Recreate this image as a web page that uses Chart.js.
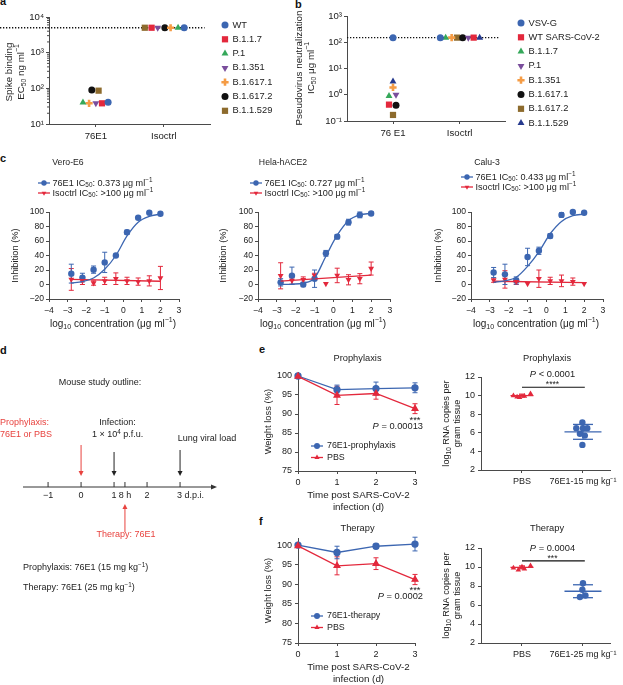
<!DOCTYPE html>
<html>
<head>
<meta charset="utf-8">
<title>76E1 binding, neutralization and mouse study</title>
<script src="https://cdn.jsdelivr.net/npm/chart.js@4.4.1/dist/chart.umd.min.js"></script>
<style>
  html, body { margin: 0; padding: 0; background: #fff; }
  body { position: relative; width: 623px; height: 685px; overflow: hidden; font-family: "Liberation Sans", Arial, Helvetica, sans-serif; }
  canvas { position: absolute; }
  .tag { position: absolute; font-weight: bold; font-size: 11px; line-height: 11px; color: #111; }
</style>
</head>
<body>
<div class="tag" style="left:0;top:-4px">a</div>
<div class="tag" style="left:295px;top:-1px">b</div>
<div class="tag" style="left:0;top:153px">c</div>
<div class="tag" style="left:0;top:345px">d</div>
<div class="tag" style="left:259px;top:344px">e</div>
<div class="tag" style="left:259px;top:516px">f</div>
<script>
// ---------- panel a : spike binding ----------
const variantsA = ['WT', 'B.1.1.7', 'P.1', 'B.1.351', 'B.1.617.1', 'B.1.617.2', 'B.1.1.529'];
const ec50_76E1 = [41, 38, 40, 38, 38, 90, 86];
const ec50_Iso = [5000, 5000, 5000, 5000, 5000, 5000, 5000];
const jitterA_76E1 = [0.18, 0.09, -0.19, 0, -0.1, -0.06, 0.04];
const jitterA_Iso = [0.3, -0.18, 0.21, -0.09, 0.1, 0.015, -0.28];
const groupsA = ['76E1', 'Isoctrl'];
const ticksA = [10, 100, 1000, 10000];
const cutoffA = 5000;

// ---------- panel b : pseudovirus neutralization ----------
const variantsB = ['VSV-G', 'WT SARS-CoV-2', 'B.1.1.7', 'P.1', 'B.1.351', 'B.1.617.1', 'B.1.617.2', 'B.1.1.529'];
const ic50_76E1 = [150, 0.42, 0.9, 1.0, 1.9, 0.4, 0.17, 3.2];
const ic50_Iso = [150, 150, 150, 150, 150, 150, 150, 150];
const jitterB_76E1 = [0, -0.06, -0.06, 0.045, 0, 0.045, 0, 0];
const jitterB_Iso = [-0.29, 0.21, -0.21, 0.13, -0.12, 0.045, -0.04, 0.3];
const groupsB = ['76 E1', 'Isoctrl'];
const ticksB = [0.1, 1, 10, 100, 1000];
const cutoffB = 150;

// ---------- panel c : live virus inhibition ----------
const logConc = [-2.8, -2.2, -1.6, -1.0, -0.4, 0.2, 0.8, 1.4, 2.0];
const fitEnds = [-2.8, 2.0];
const cellLines = ['Vero-E6', 'Hela-hACE2', 'Calu-3'];
const ic50Labels = ['0.373', '0.727', '0.433'];

const vero76 = [15, 9.5, 20.5, 30.5, 40, 72, 92, 99, 97.5];
const vero76Err = [13, 6, 5, 14, 1, 3, 1, 1, 1];
const vero76Fit = [2, 4, 9, 21, 40, 67, 86, 94, 97];
const veroIso = [7, 5, 2, 5, 8, 5, 4, 5, 9];
const veroIsoErr = [15, 5, 3, 5, 8, 5, 5, 7, 16];
const veroIsoFit = [7, 4.5];

const hela76 = [3, 12, 0, 8, 43, 66, 86, 96, 98];
const hela76Err = [5, 12, 3, 12, 4, 3, 4, 4, 2];
const hela76Fit = [0, 0.5, 2, 9, 39, 68, 88, 96, 98];
const helaIso = [12, 5.5, 6.5, 12.5, 1, 12.5, 6.5, 8, 22];
const helaIsoErr = [18, 5, 4, 3, 0, 10, 7, 7, 9];
const helaIsoFit = [4.6, 13];

const calu76 = [16.5, 14, 5.5, 38, 46.5, 67, 96, 100, 99];
const calu76Err = [7, 14, 5, 12, 5, 3, 3, 1, 1];
const calu76Fit = [3, 5, 10, 25, 45, 70, 87, 95, 97];
const caluIso = [6, 7, 4, 1, 8, 5, 5, 4, 1];
const caluIsoErr = [3, 12, 4, 0, 12, 5, 8, 5, 0];
const caluIsoFit = [4.5, 2.5];

// ---------- panel d : study outline ----------
const timelineTicks = [-1, 0, 1, 1.33, 2, 3];
const timelineLabels = ['\u22121', '0', '1', '8 h', '2', '3 d.p.i.'];

// ---------- panels e, f : weight and lung viral load ----------
const days = [0, 1, 2, 3];
const weightTicks = [75, 80, 85, 90, 95, 100];
const wProph76 = [100, 96.4, 96.7, 96.9];
const wProph76Err = [0, 1.2, 1.7, 1.3];
const wPbsE = [99.9, 94.9, 95.4, 91.4];
const wPbsEErr = [0.3, 2.4, 1.5, 1.3];
const wTher76 = [100, 98.1, 99.7, 100.25];
const wTher76Err = [0, 1.6, 0.6, 1.75];
const wPbsF = [99.8, 94.7, 95.25, 91.2];
const wPbsFErr = [0.3, 2.3, 1.5, 1.3];

const rnaPbsE = [10.0, 9.86, 9.8, 9.93, 10.2];
const rnaPbsEJit = [-0.14, -0.08, -0.04, 0.04, 0.14];
const rna76E = [7.1, 6.5, 6.5, 6.5, 5.9, 5.7, 4.7];
const rna76EJit = [-0.01, -0.11, 0, 0.07, -0.05, 0.03, -0.01];
const rnaMeanE = [10.0, 6.1];
const rnaSdE = [0.15, 0.8];

const rnaPbsF = [9.9, 9.7, 9.8, 10.15, 10.0];
const rnaPbsFJit = [-0.14, -0.06, 0.04, 0.14, 0];
const rna76F = [8.3, 7.6, 7.0, 6.85];
const rna76FJit = [0, -0.01, 0.04, -0.05];
const rnaMeanF = [9.96, 7.45];
const rnaSdF = [0.15, 0.68];
const rnaTicks = [2, 4, 6, 8, 10, 12];

// ---------- styling ----------
const FONT = '"Liberation Sans", Arial, Helvetica, sans-serif';
const INK = '#222';
const AXC = '#4a4a4a';
const BLUE = '#3c66b1', RED = '#e3283c', GREEN = '#35a85a', PURPLE = '#7a4e9c',
      ORANGE = '#f59c45', BLACK = '#111111', BROWN = '#8d6b2d', NAVY = '#263a8e', DRED = '#e8433f';
const stylesA = [[BLUE, 'circle'], [RED, 'rect'], [GREEN, 'triangle'], [PURPLE, 'triangleDown'],
                 [ORANGE, 'cross'], [BLACK, 'circle'], [BROWN, 'rect']];
const stylesB = [[BLUE, 'circle'], [RED, 'rect'], [GREEN, 'triangle'], [PURPLE, 'triangleDown'],
                 [ORANGE, 'cross'], [BLACK, 'circle'], [BROWN, 'rect'], [NAVY, 'triangle']];

Chart.defaults.font.family = FONT;
Chart.defaults.color = INK;
Chart.defaults.animation = false;
Chart.defaults.events = [];
Chart.defaults.plugins.legend.display = false;
Chart.defaults.plugins.tooltip.enabled = false;

const SUP = {'-': '\u207b', '0': '\u2070', '1': '\u00b9', '2': '\u00b2', '3': '\u00b3', '4': '\u2074'};
function pow10(v) {
  return '10' + String(Math.round(Math.log10(v))).split('').map(ch => SUP[ch]).join('');
}
const minus = v => String(v).replace('-', '\u2212');

// text with sub/superscripts: parts = [[text, mode]], mode '', 'sub', 'sup', 'i'
function rich(ctx, parts, x, y, size, align, color) {
  if (typeof parts === 'string') parts = [[parts, '']];
  let w = 0;
  const segs = parts.map(([t, m]) => {
    const s = (m === 'sub' || m === 'sup') ? size * 0.7 : size;
    const font = (m === 'i' ? 'italic ' : '') + s + 'px ' + FONT;
    ctx.font = font;
    const sw = ctx.measureText(t).width;
    w += sw;
    return {t, m, font, sw};
  });
  let cx = align === 'center' ? x - w / 2 : align === 'right' ? x - w : x;
  ctx.fillStyle = color || INK;
  ctx.textBaseline = 'middle';
  ctx.textAlign = 'left';
  segs.forEach(g => {
    ctx.font = g.font;
    const dy = g.m === 'sub' ? size * 0.3 : g.m === 'sup' ? -size * 0.35 : 0;
    ctx.fillText(g.t, cx, y + dy);
    cx += g.sw;
  });
}
function richV(ctx, parts, x, y, size) {
  ctx.save();
  ctx.translate(x, y);
  ctx.rotate(-Math.PI / 2);
  rich(ctx, parts, 0, 0, size, 'center');
  ctx.restore();
}
function seg(ctx, x1, y1, x2, y2) {
  ctx.beginPath(); ctx.moveTo(x1, y1); ctx.lineTo(x2, y2); ctx.stroke();
}

function mk(box) {
  const c = document.createElement('canvas');
  c.width = box.w; c.height = box.h;
  c.style.left = box.x + 'px'; c.style.top = box.y + 'px';
  c.style.width = box.w + 'px'; c.style.height = box.h + 'px';
  document.body.appendChild(c);
  return c;
}
function pad(box, area, yW, xH) {
  return {left: area.l - box.x - yW, top: area.t - box.y,
          right: box.x + box.w - area.r, bottom: box.y + box.h - area.b - xH};
}
function axis(o, size, w, h, tpad) {
  const t = Object.assign({font: {size}, color: INK, padding: tpad, maxRotation: 0, autoSkip: false}, o.ticks || {});
  return Object.assign({}, o, {
    ticks: t,
    grid: {drawOnChartArea: false, drawTicks: true, tickLength: 3, color: AXC, lineWidth: 1},
    border: {color: AXC, width: 1},
    afterFit: s => {
      if (w != null) s.width = w;
      if (h != null) s.height = h;
      s.paddingLeft = s.paddingRight = s.paddingTop = s.paddingBottom = 0;
    }
  });
}
const fixTicks = arr => s => { s.ticks = arr.map(v => ({value: v})); };

// drawing in page coordinates on top of a chart
function decor(box, after, before) {
  const wrap = fn => chart => {
    const ctx = chart.ctx;
    ctx.save();
    ctx.translate(-box.x, -box.y);
    const X = v => chart.scales.x.getPixelForValue(v) + box.x;
    const Y = v => chart.scales.y.getPixelForValue(v) + box.y;
    fn(ctx, X, Y, chart);
    ctx.restore();
  };
  const p = {id: 'decor'};
  if (after) p.afterDraw = wrap(after);
  if (before) p.beforeDatasetsDraw = wrap(before);
  return p;
}

function ptOpts(st) {
  const p = st[1];
  return {
    pointStyle: p === 'triangleDown' ? 'triangle' : p,
    rotation: p === 'triangleDown' ? 180 : 0,
    pointRadius: p === 'rect' ? 4.4 : p === 'circle' ? 3.5 : p === 'cross' ? 3.6 : 4,
    borderWidth: p === 'cross' ? 2.6 : 0
  };
}
function marker(ctx, st, x, y) {
  const o = ptOpts(st);
  ctx.save();
  ctx.fillStyle = st[0]; ctx.strokeStyle = st[0]; ctx.lineWidth = o.borderWidth || 1;
  Chart.helpers.drawPoint(ctx, {pointStyle: o.pointStyle, rotation: o.rotation, radius: o.pointRadius, borderWidth: o.borderWidth}, x, y);
  ctx.restore();
}

// error bars from dataset.errors
Chart.register({
  id: 'errorBars',
  beforeDatasetsDraw(chart) {
    const ctx = chart.ctx;
    chart.data.datasets.forEach((ds, di) => {
      if (!ds.errors) return;
      const meta = chart.getDatasetMeta(di);
      const ys = chart.scales[meta.yAxisID];
      ctx.save();
      ctx.strokeStyle = ds.borderColor;
      ctx.lineWidth = 1;
      meta.data.forEach((pt, i) => {
        const e = ds.errors[i];
        if (!e) return;
        const v = ds.data[i].y;
        const y0 = ys.getPixelForValue(v - e), y1 = ys.getPixelForValue(v + e);
        seg(ctx, pt.x, y0, pt.x, y1);
        seg(ctx, pt.x - 2.5, y0, pt.x + 2.5, y0);
        seg(ctx, pt.x - 2.5, y1, pt.x + 2.5, y1);
      });
      ctx.restore();
    });
  }
});

// ---------- a / b dot plots ----------
function dotPanel(cfg) {
  const {box, area, variants, styles, v76, j76, vIso, jIso, groups, yTicks, cutoff, cutFrom, leg, yTitle, minor} = cfg;
  const datasets = variants.map((name, i) => Object.assign({
    label: name,
    data: [{x: j76[i], y: v76[i]}, {x: 1 + jIso[i], y: vIso[i]}],
    backgroundColor: styles[i][0], borderColor: styles[i][0],
    showLine: false, clip: false
  }, ptOpts(styles[i])));
  new Chart(mk(box), {
    type: 'scatter',
    data: {datasets},
    options: {
      responsive: false,
      layout: {padding: pad(box, area, 30, 24)},
      scales: {
        x: axis({type: 'linear', min: -0.69, max: 1.68, afterBuildTicks: fixTicks([0, 1]),
                 ticks: {callback: v => groups[v]}}, 9.6, null, 24, 4),
        y: axis({type: 'logarithmic', min: yTicks[0], max: yTicks[yTicks.length - 1],
                 afterBuildTicks: fixTicks(yTicks), ticks: {callback: v => pow10(v)}}, 9.6, 30, null, 2)
      }
    },
    plugins: [decor(box, (ctx, X, Y, chart) => {
      variants.forEach((name, i) => {
        const y = leg.y + i * 14.3;
        marker(ctx, styles[i], leg.x, y);
        rich(ctx, name, leg.x + 7.5, y, 9.3, 'left');
      });
      richV(ctx, yTitle[0], yTitle[2], yTitle[4], 9.8);
      richV(ctx, yTitle[1], yTitle[3], yTitle[4], 9.8);
      if (minor) {
        // minor log ticks between the decades
        const ax = chart.chartArea.left + box.x;
        ctx.strokeStyle = AXC; ctx.lineWidth = 1;
        yTicks.slice(0, -1).forEach(d => {
          [2, 3, 4, 5, 6, 7, 8, 9].forEach(k => seg(ctx, ax - 2, Y(d * k), ax, Y(d * k)));
        });
      }
    }, (ctx, X, Y) => {
      ctx.strokeStyle = '#111';
      ctx.lineWidth = 1.3;
      ctx.setLineDash([1.3, 1.7]);
      seg(ctx, cutFrom, Y(cutoff), X(1.6), Y(cutoff));
    })]
  });
}

dotPanel({
  box: {x: 0, y: 0, w: 295, h: 150}, area: {l: 49, t: 17, r: 210, b: 124},
  variants: variantsA, styles: stylesA, v76: ec50_76E1, j76: jitterA_76E1, vIso: ec50_Iso, jIso: jitterA_Iso,
  groups: groupsA, yTicks: ticksA, cutoff: cutoffA, cutFrom: 0, leg: {x: 225, y: 25}, minor: true,
  yTitle: ['Spike binding', [['EC', ''], ['50', 'sub'], [' ng ml', ''], ['\u22121', 'sup']], 9, 21, 72]
});
dotPanel({
  box: {x: 295, y: 0, w: 328, h: 150}, area: {l: 347, t: 16, r: 505, b: 121},
  variants: variantsB, styles: stylesB, v76: ic50_76E1, j76: jitterB_76E1, vIso: ic50_Iso, jIso: jitterB_Iso,
  groups: groupsB, yTicks: ticksB, cutoff: cutoffB, cutFrom: 347, leg: {x: 521, y: 23}, minor: false,
  yTitle: ['Pseudovirus neutralization', [['IC', ''], ['50', 'sub'], [' \u03bcg ml', ''], ['\u22121', 'sup']], 299, 311, 68]
});

// ---------- c : inhibition curves ----------
function curvePanel(cfg) {
  const {box, area, idx, pts76, err76, fit76, ptsIso, errIso, fitIso, titleX, legX, legY, yTitleX} = cfg;
  const xy = (xs, ys) => xs.map((x, i) => ({x, y: ys[i]}));
  new Chart(mk(box), {
    type: 'scatter',
    data: {datasets: [
      {data: xy(logConc, fit76), showLine: true, borderColor: BLUE, borderWidth: 1.3, pointRadius: 0,
       cubicInterpolationMode: 'monotone', clip: false},
      {data: xy(fitEnds, fitIso), showLine: true, borderColor: RED, borderWidth: 1.3, pointRadius: 0, clip: false},
      {data: xy(logConc, ptsIso), errors: errIso, showLine: false, backgroundColor: RED, borderColor: RED,
       pointStyle: 'triangle', rotation: 180, pointRadius: 3.4, borderWidth: 0, clip: false},
      {data: xy(logConc, pts76), errors: err76, showLine: false, backgroundColor: BLUE, borderColor: BLUE,
       pointStyle: 'circle', pointRadius: 3.2, borderWidth: 0, clip: false}
    ]},
    options: {
      responsive: false,
      layout: {padding: pad(box, area, 26, 24)},
      scales: {
        x: axis({type: 'linear', min: -4, max: 3, ticks: {stepSize: 1, callback: minus}}, 8.6, null, 24, 3),
        y: axis({type: 'linear', min: -20, max: 100, ticks: {stepSize: 20, callback: minus}}, 8.6, 26, null, 2)
      }
    },
    plugins: [decor(box, (ctx, X, Y, chart) => {
      const ca = chart.chartArea;
      rich(ctx, cellLines[idx], titleX, 163, 8.7, 'center');
      const rows = [
        [BLUE, 'circle', [['76E1 IC', ''], ['50', 'sub'], [': ' + ic50Labels[idx] + ' \u03bcg ml', ''], ['\u22121', 'sup']]],
        [RED, 'triangleDown', [['Isoctrl IC', ''], ['50', 'sub'], [': >100 \u03bcg ml', ''], ['\u22121', 'sup']]]
      ];
      rows.forEach((r, i) => {
        const y = legY + i * 10;
        ctx.strokeStyle = r[0]; ctx.lineWidth = 1.3;
        seg(ctx, legX, y, legX + 12, y);
        ctx.fillStyle = r[0];
        Chart.helpers.drawPoint(ctx, {pointStyle: r[1] === 'circle' ? 'circle' : 'triangle', rotation: r[1] === 'circle' ? 0 : 180,
                                      radius: 2.7, borderWidth: 0}, legX + 6, y);
        rich(ctx, r[2], legX + 14.5, y, 9.1, 'left');
      });
      const cx = (ca.left + ca.right) / 2 + box.x;
      rich(ctx, [['log', ''], ['10', 'sub'], [' concentration (\u03bcg ml', ''], ['\u22121', 'sup'], [')', '']], cx - 1, 324, 10, 'center');
      richV(ctx, 'Inhibition (%)', yTitleX, (ca.top + ca.bottom) / 2 + box.y, 9.3);
    })]
  });
}

curvePanel({box: {x: 0, y: 150, w: 205, h: 185}, area: {l: 49, t: 212, r: 179, b: 299}, idx: 0,
  pts76: vero76, err76: vero76Err, fit76: vero76Fit, ptsIso: veroIso, errIso: veroIsoErr, fitIso: veroIsoFit,
  titleX: 68, legX: 38, legY: 183, yTitleX: 15});
curvePanel({box: {x: 205, y: 150, w: 205, h: 185}, area: {l: 258, t: 212, r: 390, b: 299}, idx: 1,
  pts76: hela76, err76: hela76Err, fit76: hela76Fit, ptsIso: helaIso, errIso: helaIsoErr, fitIso: helaIsoFit,
  titleX: 283, legX: 250, legY: 183, yTitleX: 223});
curvePanel({box: {x: 410, y: 150, w: 213, h: 185}, area: {l: 471, t: 212, r: 603, b: 299}, idx: 2,
  pts76: calu76, err76: calu76Err, fit76: calu76Fit, ptsIso: caluIso, errIso: caluIsoErr, fitIso: caluIsoFit,
  titleX: 487, legX: 461, legY: 177, yTitleX: 438});

// ---------- d : mouse study outline ----------
(function () {
  const box = {x: 0, y: 340, w: 255, h: 265};
  const area = {l: 23, t: 450, r: 217, b: 487};
  function arrow(ctx, x, y0, y1, color) {
    ctx.strokeStyle = color; ctx.fillStyle = color; ctx.lineWidth = 1;
    const d = y1 > y0 ? 1 : -1;
    seg(ctx, x, y0, x, y1 - d * 4);
    ctx.beginPath();
    ctx.moveTo(x, y1); ctx.lineTo(x - 2.5, y1 - d * 5); ctx.lineTo(x + 2.5, y1 - d * 5); ctx.closePath(); ctx.fill();
  }
  new Chart(mk(box), {
    type: 'scatter',
    data: {datasets: []},
    options: {
      responsive: false,
      layout: {padding: pad(box, area, 0, 0)},
      scales: {
        x: {type: 'linear', min: -1.76, max: 4.12, display: false},
        y: {type: 'linear', min: 0, max: 1, display: false}
      }
    },
    plugins: [decor(box, (ctx, X) => {
      const ty = 487;
      ctx.strokeStyle = '#333'; ctx.fillStyle = '#333'; ctx.lineWidth = 1;
      seg(ctx, X(-1.76), ty, X(4.12) - 4, ty);
      ctx.beginPath();
      ctx.moveTo(X(4.12), ty); ctx.lineTo(X(4.12) - 6, ty - 2.6); ctx.lineTo(X(4.12) - 6, ty + 2.6); ctx.closePath(); ctx.fill();
      timelineTicks.forEach((v, i) => {
        seg(ctx, X(v), ty, X(v), ty - 5);
        const last = i === timelineTicks.length - 1;
        rich(ctx, timelineLabels[i], last ? X(v) - 3 : X(v), 496, 9, last ? 'left' : 'center');
      });
      arrow(ctx, X(0), 445, 476, DRED);
      arrow(ctx, X(1), 452, 476, '#222');
      arrow(ctx, X(3), 450, 476, '#222');
      arrow(ctx, X(1.33), 532, 504, DRED);
      rich(ctx, 'Mouse study outline:', 100, 383, 9, 'center');
      rich(ctx, 'Prophylaxis:', 0, 423, 9, 'left', DRED);
      rich(ctx, '76E1 or PBS', 0, 435, 9, 'left', DRED);
      rich(ctx, 'Infection:', X(1) + 3.5, 423, 9, 'center');
      rich(ctx, [['1 \u00d7 10', ''], ['4', 'sup'], [' p.f.u.', '']], X(1) + 3.5, 435, 9, 'center');
      rich(ctx, 'Lung viral load', X(3) + 27, 439, 9, 'center');
      rich(ctx, 'Therapy: 76E1', X(1.33) + 1, 535, 9, 'center', DRED);
      rich(ctx, [['Prophylaxis: 76E1 (15 mg kg', ''], ['\u22121', 'sup'], [')', '']], 23, 568, 9, 'left');
      rich(ctx, [['Therapy: 76E1 (25 mg kg', ''], ['\u22121', 'sup'], [')', '']], 23, 588, 9, 'left');
    })]
  });
})();

// ---------- e / f : weight ----------
function weightPanel(cfg) {
  const {box, area, yMax, w76, w76Err, wPbs, wPbsErr, title, legName, pText, y0} = cfg;
  const xy = ys => days.map((x, i) => ({x, y: ys[i]}));
  new Chart(mk(box), {
    type: 'scatter',
    data: {datasets: [
      {data: xy(wPbs), errors: wPbsErr, showLine: true, borderColor: RED, backgroundColor: RED, borderWidth: 1.3,
       pointStyle: 'triangle', pointRadius: 3.3, clip: false},
      {data: xy(w76), errors: w76Err, showLine: true, borderColor: BLUE, backgroundColor: BLUE, borderWidth: 1.3,
       pointStyle: 'circle', pointRadius: 3, clip: false}
    ]},
    options: {
      responsive: false,
      layout: {padding: pad(box, area, 26, 26)},
      scales: {
        x: axis({type: 'linear', min: 0, max: 3, afterBuildTicks: fixTicks(days)}, 9, null, 26, 3),
        y: axis({type: 'linear', min: 75, max: yMax, afterBuildTicks: fixTicks(weightTicks)}, 9, 26, null, 3)
      }
    },
    plugins: [decor(box, (ctx, X, Y, chart) => {
      const ca = chart.chartArea;
      const cx = (ca.left + ca.right) / 2 + box.x;
      rich(ctx, title, cx + 1, y0 + 18, 9.3, 'center');
      rich(ctx, '***', X(3), y0 + 80, 9.3, 'center');
      rich(ctx, [['P', 'i'], [' = ' + pText, '']], X(3) + 8, y0 + 86, 9.3, 'right');
      const legs = [[BLUE, 'circle', legName], [RED, 'triangle', 'PBS']];
      legs.forEach((r, i) => {
        const y = y0 + 106 + i * 11.5;
        ctx.strokeStyle = r[0]; ctx.fillStyle = r[0]; ctx.lineWidth = 1.3;
        seg(ctx, 311, y, 323, y);
        Chart.helpers.drawPoint(ctx, {pointStyle: r[1], rotation: 0, radius: 3, borderWidth: 0}, 317, y);
        rich(ctx, r[2], 327, y, 8.9, 'left');
      });
      rich(ctx, 'Time post SARS-CoV-2', cx + 2, ca.bottom + box.y + 24, 9.8, 'center');
      rich(ctx, 'infection (d)', cx + 2, ca.bottom + box.y + 36, 9.8, 'center');
      richV(ctx, 'Weight loss (%)', 268, (ca.top + ca.bottom) / 2 + box.y, 9.4);
    })]
  });
}
weightPanel({box: {x: 255, y: 340, w: 185, h: 175}, area: {l: 298, t: 372.2, r: 415, b: 471}, yMax: 101,
  w76: wProph76, w76Err: wProph76Err, wPbs: wPbsE, wPbsErr: wPbsEErr, title: 'Prophylaxis',
  legName: '76E1-prophylaxis', pText: '0.00013', y0: 340});
weightPanel({box: {x: 255, y: 512, w: 185, h: 173}, area: {l: 298, t: 538, r: 415, b: 643}, yMax: 101.8,
  w76: wTher76, w76Err: wTher76Err, wPbs: wPbsF, wPbsErr: wPbsFErr, title: 'Therapy',
  legName: '76E1-therapy', pText: '0.0002', y0: 510});

// ---------- e / f : lung RNA ----------
function rnaPanel(cfg) {
  const {box, area, pbs, pbsJit, ab, abJit, means, sds, labels, title, pParts, stars, sigY, pY, y0} = cfg;
  new Chart(mk(box), {
    type: 'scatter',
    data: {datasets: [
      {data: pbs.map((y, i) => ({x: pbsJit[i], y})), showLine: false, backgroundColor: RED, borderColor: RED,
       pointStyle: 'triangle', pointRadius: 3.2, borderWidth: 0, clip: false},
      {data: ab.map((y, i) => ({x: 1 + abJit[i], y})), showLine: false, backgroundColor: BLUE, borderColor: BLUE,
       pointStyle: 'circle', pointRadius: 3.2, borderWidth: 0, clip: false}
    ]},
    options: {
      responsive: false,
      layout: {padding: pad(box, area, 26, 22)},
      scales: {
        x: axis({type: 'linear', min: -0.672, max: 1.443, afterBuildTicks: fixTicks([0, 1]),
                 ticks: {callback: v => labels[v]}}, 9, null, 22, 3),
        y: axis({type: 'linear', min: 2, max: 12, afterBuildTicks: fixTicks(rnaTicks)}, 9, 26, null, 3)
      }
    },
    plugins: [decor(box, (ctx, X, Y, chart) => {
      const ca = chart.chartArea;
      rich(ctx, title, 547, y0 + 18, 9.3, 'center');
      ctx.strokeStyle = '#111'; ctx.lineWidth = 1.2;
      seg(ctx, X(0), Y(sigY), X(1.03), Y(sigY));
      const mx = (X(0) + X(1)) / 2;
      rich(ctx, stars, mx, Y(sigY) - 2.5, 8.6, 'center');
      rich(ctx, pParts, mx, pY, 9.3, 'center');
      const cy = (ca.top + ca.bottom) / 2 + box.y;
      richV(ctx, [['log', ''], ['10', 'sub'], [' RNA copies per', '']], 446, cy, 9.2);
      richV(ctx, 'gram tissue', 457, cy, 9.2);
    }, (ctx, X, Y) => {
      const half = [[11.5, 3], [18.5, 10]];
      const cols = [RED, BLUE];
      means.forEach((m, i) => {
        ctx.strokeStyle = cols[i]; ctx.lineWidth = 1.3;
        seg(ctx, X(i) - half[i][0], Y(m), X(i) + half[i][0], Y(m));
        const yt = Y(m + sds[i]), yb = Y(m - sds[i]);
        seg(ctx, X(i), yt, X(i), yb);
        seg(ctx, X(i) - half[i][1], yt, X(i) + half[i][1], yt);
        seg(ctx, X(i) - half[i][1], yb, X(i) + half[i][1], yb);
      });
    })]
  });
}
rnaPanel({box: {x: 440, y: 340, w: 183, h: 165}, area: {l: 481, t: 377, r: 610, b: 470},
  pbs: rnaPbsE, pbsJit: rnaPbsEJit, ab: rna76E, abJit: rna76EJit, means: rnaMeanE, sds: rnaSdE,
  labels: ['PBS', '76E1-15 mg kg\u207b\u00b9'], title: 'Prophylaxis',
  pParts: [['P', 'i'], [' < 0.0001', '']], stars: '****', sigY: 10.9, pY: 374.5, y0: 340});
rnaPanel({box: {x: 440, y: 512, w: 183, h: 173}, area: {l: 481, t: 548, r: 610, b: 643},
  pbs: rnaPbsF, pbsJit: rnaPbsFJit, ab: rna76F, abJit: rna76FJit, means: rnaMeanF, sds: rnaSdF,
  labels: ['PBS', '76E1-25 mg kg\u207b\u00b9'], title: 'Therapy',
  pParts: [['P', 'i'], [' = 0.0004', '']], stars: '***', sigY: 10.65, pY: 548, y0: 510});
</script>
</body>
</html>
